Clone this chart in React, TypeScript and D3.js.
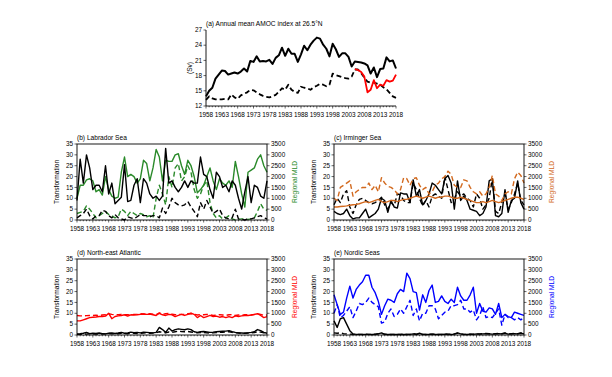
import React from "react";
import * as d3 from "d3";

const years = d3.range(1958, 2019);
const yearTicks = [1958, 1963, 1968, 1973, 1978, 1983, 1988, 1993, 1998, 2003, 2008, 2013, 2018];
const transTicks = [0, 5, 10, 15, 20, 25, 30, 35];
const mldTicks = [0, 500, 1000, 1500, 2000, 2500, 3000, 3500];
const amocTicks = [12, 15, 18, 21, 24, 27];

// (a) AMOC
const amocSolid = [13.9,15.0,15.6,17.4,18.2,19.0,18.9,18.2,18.4,18.6,18.4,18.8,19.4,18.8,20.9,20.7,21.8,20.8,20.9,20.8,21.1,20.3,21.5,22.0,23.5,21.9,23.3,22.3,22.3,20.7,22.2,23.9,23.0,24.1,24.9,25.5,25.3,24.1,23.3,21.8,24.3,23.2,21.7,22.4,22.4,21.7,19.8,20.8,20.7,20.6,20.4,20.0,18.4,19.6,17.7,19.3,19.4,21.6,20.8,21.0,19.4];
const amocDashed = [13.2,13.9,13.5,13.3,13.3,13.3,13.4,13.3,14.3,13.7,13.4,14.1,14.4,14.7,15.2,15.1,14.7,14.3,14.0,13.8,13.7,13.9,14.2,14.8,15.5,15.2,16.2,15.2,14.8,14.6,15.8,15.6,15.5,15.2,15.7,16.0,16.4,16.2,15.9,16.2,18.4,18.1,17.9,17.7,17.5,17.4,17.8,19.2,19.2,18.5,17.6,16.8,16.6,16.6,16.4,16.2,15.7,15.3,14.6,13.9,13.6];
const rapidYears = [2005,2006,2007,2008,2009,2010,2011,2012,2013,2014,2015,2016,2017,2018];
const rapid = [19.3,19.1,18.7,17.8,14.7,15.2,17.1,15.5,16.2,16.0,17.1,16.8,17.0,18.2];

// (b) Labrador Sea
const labTransSolid = [9,28,17,30,24,14,16,16,13,25,12,17,7.5,9,10.5,25.5,8.5,9,16,19,8,19,17,12,10,11,9,11,33,17,18,15,13,15,18,15,18,17,17,29,21,20,14,10,22,20,15,16,13,18,16,10,5,13,20,8,16,15,11,10,18];
const labTransDashed = [1,2,3,5,2,0.5,2,2,4.5,4,2,1,2.5,1,0.5,0,1.5,1,0.5,1.5,2.5,2,2,1.5,2,2,1,5.5,3,6,10,8,7,6.5,7,8.5,6,4,1.5,8,5,9,6,3,4,5,2,1,0.5,1,5,0.5,0.3,0,0.5,0.5,1,1.5,2,1,0.5];
const labMldSolid = [1000,1600,1600,1850,1900,1800,1300,1400,1150,2000,1400,1100,1000,1050,2200,2900,2000,2100,2000,1700,1900,2750,2600,1800,2400,3250,2900,1800,2750,2700,2700,3000,3050,2500,2100,2750,2500,2000,1250,1400,1600,2000,2400,1800,1400,1900,1700,1600,1800,1500,2700,2000,1200,600,2200,2300,2400,2800,3000,2500,2200];
const labMldDashed = [300,350,400,650,500,300,100,200,300,400,250,200,100,150,500,400,200,400,300,200,300,250,150,200,100,1000,1600,1200,700,2000,1500,2400,2600,1800,2000,2500,2200,1400,1000,1200,1600,1800,800,300,100,200,50,100,200,50,0,30,50,50,30,50,100,400,750,500,450];

// (c) Irminger Sea
const irmTransSolid = [4,3,2.5,3,5,2,0.5,1,1,3,5,1,2,3,5,10,9,3.5,9,6,5.5,12.5,12,12,8,18.5,11,14,7,9,12,17,16,14,12,19,20.5,17,5,18,9,11,9,5,4.5,4,2,3,6,18,19,2,1.5,3,14,3.5,9,10,18,8,5];
const irmTransDashed = [7,10,8,12,13.5,6,3,7,9.5,10,9,8,7.5,8,9,10.5,7,5,8,6.5,12,11.5,9,8,8,17,14,10,6.5,9,6,11,12,11,10,20,14,8,10,13,11,12,10,9,6,12,10,5,7,10,19,4,3,8,12,5,8,12,17,9,7];
const irmMldSolid = [600,600,620,630,650,680,700,720,750,800,850,800,850,900,950,850,800,850,900,900,850,900,950,950,1000,1050,1100,1050,1000,1050,1100,1050,1000,1050,1050,1100,1100,1050,1000,1000,1050,1000,950,900,850,800,800,850,800,850,900,850,800,850,900,950,1000,1050,1050,1000,950];
const irmMldDashed = [1000,900,1500,1600,1700,1800,1100,1300,1400,1500,1500,1700,1400,1600,1300,1950,1700,1550,1500,1400,1200,1400,1950,1900,1600,1900,1950,1600,1400,1500,1200,1300,1600,1700,1900,2000,2250,2100,1600,1500,1500,1850,1800,1500,1300,1200,1300,1100,1200,1500,2050,1200,1100,900,1200,1300,1200,1900,2200,2050,1700];

// (d) North-east Atlantic
const neaTransSolid = [0.5,0.6,0.8,1.2,0.6,0.8,0.7,0.9,0.6,0.5,0.8,1,0.7,0.9,1.2,0.8,1,1.3,1.1,1.2,1,1.3,1.2,1.1,1,1.2,3.5,2.5,1.2,3.2,1.8,2.5,2.8,2.6,2.4,2.8,2.5,1.5,1.2,1.5,1.6,1.4,1.2,1.3,1.5,1.6,1.7,1.8,2,1.5,1.2,1,0.9,0.8,1,1.2,1.5,2.5,2,1.2,0.8];
const neaTransDashed = [0.3,0.3,0.5,0.4,0.6,0.5,0.4,0.5,0.6,0.5,0.7,0.6,0.5,0.6,0.8,0.7,0.6,0.9,0.8,0.7,0.8,0.9,1,0.8,0.9,1,1.5,1.2,1,1.4,1.2,1.5,1.8,1.6,1.5,1.6,1.4,1.2,1,1.1,1.2,1,0.9,1,1.1,1.2,1.3,1.4,1.5,1.2,1,0.9,0.8,0.8,0.9,1,1.1,1.5,1.3,1,0.7];
const neaMldSolid = [650,650,700,750,800,820,830,850,850,870,1000,750,850,880,900,930,870,930,920,930,950,970,950,960,930,900,1000,930,900,950,930,850,900,950,900,950,1000,950,800,900,800,850,900,850,870,820,850,800,850,800,880,850,880,900,900,920,950,980,900,800,850];
const neaMldDashed = [900,880,880,890,900,900,910,900,920,930,980,950,930,940,950,930,940,920,950,960,980,970,950,980,960,940,1020,950,980,990,960,930,950,950,940,980,990,960,920,940,930,950,930,900,920,940,920,900,930,940,900,920,910,940,930,920,940,980,950,900,920];

// (e) Nordic Seas
const norTransSolid = [6.5,3.5,7.5,8,5,2,0.5,0.3,0.3,0.2,0.3,0.3,0.2,0.3,0.5,1,0.3,0.2,0.2,0.3,0.2,0.2,0.3,0.2,0.3,0.5,0.3,0.8,0.3,0.2,0.3,0.4,0.3,0.2,0.3,0.4,0.3,0.2,0.4,1,0.5,0.3,0.2,0.4,0.3,0.5,0.4,0.5,0.6,0.5,0.4,0.5,0.6,0.5,0.8,0.4,0.5,0.6,0.5,0.8,0.5];
const norTransDashed = [1,0.8,1,0.6,0.5,0.4,0.3,0.3,0.3,0.3,0.4,0.3,0.3,0.4,0.6,0.8,0.4,0.3,0.3,0.3,0.3,0.3,0.4,0.3,0.3,0.6,0.4,0.5,0.3,0.3,0.3,0.4,0.3,0.3,0.3,0.5,0.4,0.3,0.5,0.8,0.5,0.3,0.3,0.4,0.4,0.5,0.5,0.6,0.7,0.6,0.5,0.6,0.7,0.6,0.9,0.5,0.6,0.7,0.6,0.9,0.6];
const norMldSolid = [1850,1400,950,1050,1700,2250,1700,2100,2300,2450,2750,2750,2200,1950,1550,950,1350,1650,1600,1500,1900,2100,2000,2850,2600,2000,1950,1150,1850,1500,2050,2300,1500,1550,1800,1550,1450,1650,1500,2200,1800,1600,1600,1850,2200,1000,1450,1100,1050,1250,1200,950,1450,800,950,850,800,1050,1000,950,900];
const norMldDashed = [1000,1400,800,900,1100,1300,800,1100,1450,1400,1500,1700,1500,1400,1300,550,600,1000,1200,850,950,1200,1000,1300,1600,900,1200,650,1000,1000,1350,1350,1200,750,900,1050,1100,1350,1350,1400,1600,1200,1200,1050,1150,700,900,1300,800,850,800,1000,1200,450,950,800,800,700,800,700,800];

const FONT = "'Liberation Sans', Arial, Helvetica, sans-serif";
const GREEN = "#2a8a2a";
const ORANGE = "#d2691e";
const BLUE = "#0000ff";
const RED = "#ff0000";

type Series = { xs: number[]; ys: number[]; color: string; dashed: boolean; right: boolean; width?: number };

function Panel(props: {
  left: number; top: number; width: number; height: number; title: string;
  yDomain: [number, number]; yTicks: number[]; series: Series[];
  rightAxis: boolean; rightColor?: string; rightLabelX?: number; leftLabel: string; leftLabelX: number;
  box: boolean;
}) {
  const { left, top, width, height } = props;
  const x = d3.scaleLinear().domain([1958, 2018]).range([left, left + width]);
  const y = d3.scaleLinear().domain(props.yDomain).range([top + height, top]);
  const yr = d3.scaleLinear().domain([0, 3500]).range([top + height, top]);
  const bottom = top + height;
  const right = left + width;
  const fs = 6.4;
  return (
    <g fontFamily={FONT}>
      <text x={left} y={top - 4} fontSize={6.6} fill="#000">{props.title}</text>
      {props.series.map((s, i) => {
        const sc = s.right ? yr : y;
        const line = d3.line<number>().x((_, j) => x(s.xs[j])).y((v) => sc(v));
        return (
          <path key={i} d={line(s.ys) || ""} fill="none" stroke={s.color}
            strokeWidth={s.width ?? 1.4} strokeDasharray={s.dashed ? "5,3" : undefined}
            strokeLinejoin="round" />
        );
      })}
      {props.box ? (
        <rect x={left} y={top} width={width} height={height} fill="none" stroke="#000" strokeWidth={0.9} />
      ) : (
        <g>
          <line x1={left} x2={left} y1={top} y2={bottom} stroke="#000" strokeWidth={0.9} />
          <line x1={left} x2={right} y1={bottom} y2={bottom} stroke="#000" strokeWidth={0.9} />
        </g>
      )}
      {years.map((yv) => (
        <line key={"mx" + yv} x1={x(yv)} x2={x(yv)} y1={bottom} y2={bottom + (yearTicks.includes(yv) ? 2.5 : 1.3)} stroke="#000" strokeWidth={0.6} />
      ))}
      {yearTicks.map((yv) => (
        <text key={"xt" + yv} x={x(yv)} y={bottom + 11} fontSize={fs} textAnchor="middle">{yv}</text>
      ))}
      {props.yTicks.map((t) => (
        <g key={"yt" + t}>
          <line x1={left - 2.5} x2={left} y1={y(t)} y2={y(t)} stroke="#000" strokeWidth={0.6} />
          <text x={left - 4} y={y(t) + 2.2} fontSize={fs} textAnchor="end">{t}</text>
        </g>
      ))}
      {props.rightAxis && mldTicks.map((t) => (
        <g key={"rt" + t}>
          <line x1={right} x2={right + 2.5} y1={yr(t)} y2={yr(t)} stroke="#000" strokeWidth={0.6} />
          <text x={right + 4} y={yr(t) + 2.2} fontSize={fs} textAnchor="start">{t}</text>
        </g>
      ))}
      <text transform={`translate(${props.leftLabelX},${top + height / 2}) rotate(-90)`} fontSize={6.6}
        textAnchor="middle" dominantBaseline="middle">{props.leftLabel}</text>
      {props.rightAxis && (
        <text transform={`translate(${props.rightLabelX},${top + height / 2}) rotate(-90)`} fontSize={6.6}
          textAnchor="middle" dominantBaseline="middle" fill={props.rightColor}>Regional MLD</text>
      )}
    </g>
  );
}

export default function App() {
  const W = 190, H = 76;
  const mk = (ys: number[], color: string, dashed: boolean, right: boolean, width?: number): Series =>
    ({ xs: years, ys, color, dashed, right, width });
  return (
    <svg width={612} height={377} style={{ position: "absolute", left: 0, top: 0, background: "#fff" }}>
      <rect width={612} height={377} fill="#fff" />
      <Panel left={206} top={30} width={W} height={H} title="(a) Annual mean AMOC index at 26.5°N"
        yDomain={[12, 27]} yTicks={amocTicks} rightAxis={false} leftLabel="(Sv)" leftLabelX={190} box={false}
        series={[
          mk(amocDashed, "#000", true, false, 1.8),
          mk(amocSolid, "#000", false, false, 2),
          { xs: rapidYears, ys: rapid, color: RED, dashed: false, right: false, width: 1.8 },
        ]} />
      <Panel left={77} top={144} width={W} height={H} title="(b) Labrador Sea"
        yDomain={[0, 35]} yTicks={transTicks} rightAxis={true} rightColor={GREEN} rightLabelX={295}
        leftLabel="Transformation" leftLabelX={57} box={true}
        series={[
          mk(labMldDashed, GREEN, true, true),
          mk(labMldSolid, GREEN, false, true),
          mk(labTransDashed, "#000", true, false),
          mk(labTransSolid, "#000", false, false),
        ]} />
      <Panel left={334} top={144} width={W} height={H} title="(c) Irminger Sea"
        yDomain={[0, 35]} yTicks={transTicks} rightAxis={true} rightColor={ORANGE} rightLabelX={552}
        leftLabel="Transformation" leftLabelX={314} box={true}
        series={[
          mk(irmTransDashed, "#000", true, false),
          mk(irmTransSolid, "#000", false, false),
          mk(irmMldDashed, ORANGE, true, true),
          mk(irmMldSolid, ORANGE, false, true),
        ]} />
      <Panel left={77} top={259} width={W} height={H} title="(d) North-east Atlantic"
        yDomain={[0, 35]} yTicks={transTicks} rightAxis={true} rightColor={RED} rightLabelX={295}
        leftLabel="Transformation" leftLabelX={57} box={true}
        series={[
          mk(neaMldDashed, RED, true, true),
          mk(neaMldSolid, RED, false, true),
          mk(neaTransDashed, "#000", true, false),
          mk(neaTransSolid, "#000", false, false),
        ]} />
      <Panel left={334} top={259} width={W} height={H} title="(e) Nordic Seas"
        yDomain={[0, 35]} yTicks={transTicks} rightAxis={true} rightColor={BLUE} rightLabelX={552}
        leftLabel="Transformation" leftLabelX={314} box={true}
        series={[
          mk(norMldDashed, BLUE, true, true),
          mk(norMldSolid, BLUE, false, true),
          mk(norTransDashed, "#000", true, false),
          mk(norTransSolid, "#000", false, false),
        ]} />
    </svg>
  );
}
